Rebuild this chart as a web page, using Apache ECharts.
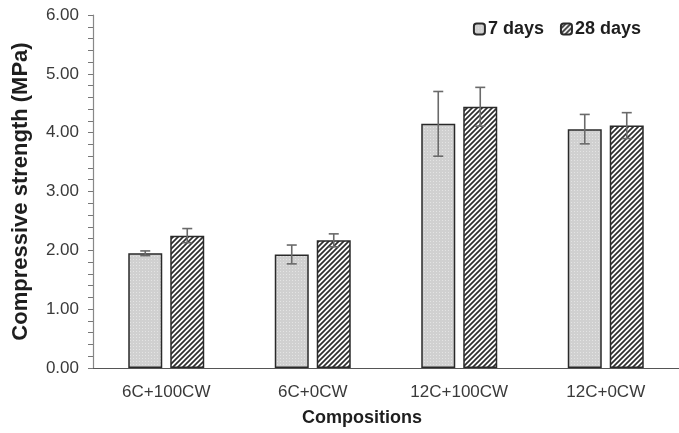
<!DOCTYPE html>
<html>
<head>
<meta charset="utf-8">
<style>
  html, body { margin: 0; padding: 0; background: #fff; }
  #chart { width: 679px; height: 433px; }
</style>
<script src="https://cdn.jsdelivr.net/npm/echarts@6/dist/echarts.min.js"></script>
</head>
<body>
<div id="chart"></div>
<script>
// Compressive strength of the mixes after 7 and 28 days of curing
const categories = ['6C+100CW', '6C+0CW', '12C+100CW', '12C+0CW'];
const days7 = [1.95, 1.93, 4.15, 4.06];
const days7Err = [0.04, 0.16, 0.55, 0.25];
const days28 = [2.25, 2.17, 4.44, 4.12];
const days28Err = [0.12, 0.11, 0.33, 0.22];
const seriesNames = ['7 days', '28 days'];
const yTicks = [0, 1, 2, 3, 4, 5, 6];

const FONT = '"Liberation Sans", Arial, sans-serif';
const BAR_W = 34;
const BAR_GAP = 8;
const HALF_STEP = (BAR_W + BAR_GAP) / 2;

// fine dotted grey fill
function dottedPattern() {
  const c = document.createElement('canvas');
  c.width = 3; c.height = 3;
  const g = c.getContext('2d');
  g.fillStyle = '#d0d0d0';
  g.fillRect(0, 0, 3, 3);
  g.fillStyle = '#e4e4e4';
  g.fillRect(1, 1, 1, 1);
  return c;
}

// diagonal "////" hatching
function hatchPattern() {
  const s = 5;
  const c = document.createElement('canvas');
  c.width = s; c.height = s;
  const g = c.getContext('2d');
  g.fillStyle = '#ffffff';
  g.fillRect(0, 0, s, s);
  g.strokeStyle = '#2e2e2e';
  g.lineWidth = 1.7;
  g.beginPath();
  g.moveTo(-1, s + 1); g.lineTo(s + 1, -1);
  g.moveTo(-1, 1); g.lineTo(1, -1);
  g.moveTo(s - 1, s + 1); g.lineTo(s + 1, s - 1);
  g.stroke();
  return c;
}

function errorSeries(values, errors, side) {
  return {
    type: 'custom',
    z: 10,
    silent: true,
    data: values.map((v, i) => [i, v, errors[i]]),
    renderItem: function (params, api) {
      const i = api.value(0), v = api.value(1), e = api.value(2);
      const top = api.coord([i, v + e]);
      const bot = api.coord([i, v - e]);
      const x = top[0] + side * HALF_STEP;
      const cap = 5;
      const st = { stroke: '#6a6a6a', lineWidth: 1.6 };
      return {
        type: 'group',
        children: [
          { type: 'line', shape: { x1: x, y1: top[1], x2: x, y2: bot[1] }, style: st },
          { type: 'line', shape: { x1: x - cap, y1: top[1], x2: x + cap, y2: top[1] }, style: st },
          { type: 'line', shape: { x1: x - cap, y1: bot[1], x2: x + cap, y2: bot[1] }, style: st }
        ]
      };
    }
  };
}

const chart = echarts.init(document.getElementById('chart'), null, { renderer: 'canvas' });

chart.setOption({
  animation: false,
  backgroundColor: '#ffffff',
  textStyle: { fontFamily: FONT },
  title: {
    text: 'Compositions',
    left: 302,
    top: 409,
    padding: 0,
    textStyle: { fontFamily: FONT, fontSize: 18, fontWeight: 'bold', color: '#1e1e1e' }
  },
  legend: {
    data: seriesNames,
    right: 33,
    top: 15,
    itemWidth: 11,
    itemHeight: 11,
    itemGap: 16,
    textStyle: { fontFamily: FONT, fontSize: 18, fontWeight: 'bold', color: '#1e1e1e', padding: [0, 0, 0, -2] }
  },
  grid: { left: 93, right: -10, top: 15, bottom: 65 },
  xAxis: {
    type: 'category',
    data: categories,
    axisLine: { lineStyle: { color: '#555', width: 1.2 } },
    axisTick: { alignWithLabel: true, length: 4, lineStyle: { color: '#555' } },
    axisLabel: { fontFamily: FONT, fontSize: 17, color: '#3a3a3a', margin: 16 }
  },
  yAxis: {
    type: 'value',
    min: yTicks[0],
    max: yTicks[yTicks.length - 1],
    interval: 1,
    name: 'Compressive strength (MPa)',
    nameLocation: 'middle',
    nameGap: 61,
    nameTextStyle: { fontFamily: FONT, fontSize: 22, fontWeight: 'bold', color: '#1e1e1e' },
    axisLine: { show: true, lineStyle: { color: '#888', width: 1.2 } },
    axisTick: { show: true, length: 5, lineStyle: { color: '#777' } },
    minorTick: { show: true, splitNumber: 5, length: 5, lineStyle: { color: '#777' } },
    splitLine: { show: false },
    axisLabel: {
      fontFamily: FONT, fontSize: 17, color: '#3a3a3a', margin: 14,
      formatter: v => v.toFixed(2)
    }
  },
  series: [
    {
      name: seriesNames[0],
      type: 'bar',
      data: days7,
      barWidth: BAR_W,
      barGap: (BAR_GAP / BAR_W * 100).toFixed(1) + '%',
      itemStyle: {
        color: { image: dottedPattern(), repeat: 'repeat' },
        borderColor: '#2a2a2a',
        borderWidth: 1.5
      }
    },
    {
      name: seriesNames[1],
      type: 'bar',
      data: days28,
      barWidth: BAR_W,
      itemStyle: {
        color: { image: hatchPattern(), repeat: 'repeat' },
        borderColor: '#2a2a2a',
        borderWidth: 1.5
      }
    },
    errorSeries(days7, days7Err, -1),
    errorSeries(days28, days28Err, 1)
  ]
});
</script>
</body>
</html>
